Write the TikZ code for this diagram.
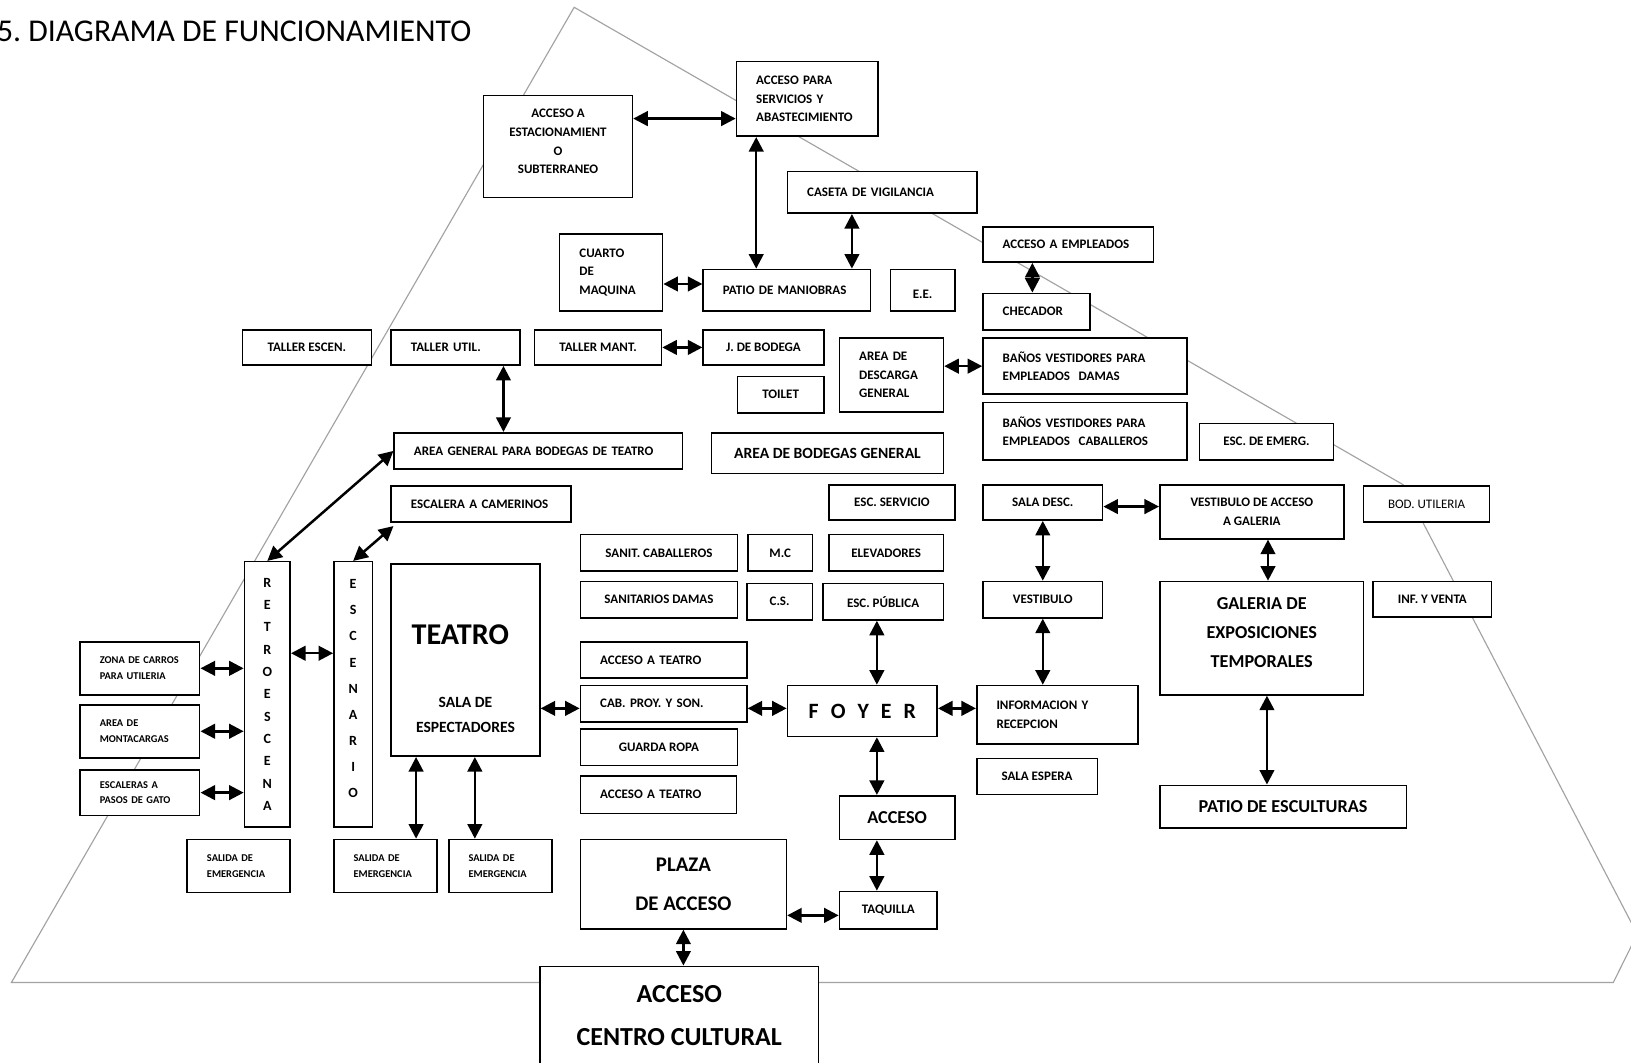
\documentclass[tikz,border=0pt]{standalone}
\usepackage{fontspec}
\setmainfont{Carlito}
\usepackage{xcolor}
\usetikzlibrary{arrows.meta,positioning}
\definecolor{bk50}{HTML}{A2A2A2}
\newcommand{\fnttitle}{\fontsize{30.5}{36}\selectfont}
\newcommand{\fntsmall}{\bfseries\fontsize{12.5}{18}\selectfont}
\newcommand{\fntreg}{\fontsize{12.5}{18}\selectfont}
\newcommand{\fnttiny}{\bfseries\fontsize{10}{15}\selectfont}
\newcommand{\fntmid}{\bfseries\fontsize{15}{24}\selectfont}
\newcommand{\fntbig}{\bfseries\fontsize{17.5}{28}\selectfont}
\newcommand{\fntfoyer}{\bfseries\fontsize{21}{24}\selectfont}
\newcommand{\fntplaza}{\bfseries\fontsize{20}{38}\selectfont}
\newcommand{\fnthuge}{\bfseries\fontsize{25}{41}\selectfont}
\newcommand{\fntteatro}{\bfseries\fontsize{29}{30}\selectfont}
\newcommand{\fntvert}{\bfseries\fontsize{13.5}{21.5}\selectfont}
\newcommand{\fntvertb}{\bfseries\fontsize{13.5}{25.1}\selectfont}
\tikzset{
  roombox/.style={
    rectangle, draw=black, fill=white, line width=1.5pt,
    font=\fntsmall, align=center, inner sep=0pt
  },
  leftbox/.style={
    roombox, align=left, inner xsep=19pt, text width=#1
  },
  boxsize/.style 2 args={minimum width=#1, minimum height=#2},
  dblarrow/.style={
    {Triangle[length=14pt,width=14pt]}-{Triangle[length=14pt,width=14pt]},
    line width=2.4pt
  },
  outline/.style={draw=bk50, line width=1.1pt},
}
\begin{document}
\begin{tikzpicture}[x=1pt, y=-1pt]
  \useasboundingbox (0,0) rectangle (1568,1021);
  % piramide
  \draw[outline] (11,944.5) -- (552,7) -- (1349,466) -- (1574,898) -- (1551,944.5) -- cycle;
  \node[font=\fnttitle, anchor=base west, inner sep=0pt] (titulo) at (-3,40) {5.\ DIAGRAMA DE FUNCIONAMIENTO};

  % Servicios
  \node[roombox, boxsize={143pt}{98pt}] (estacionamiento) at (536.5,141) {ACCESO A\\ESTACIONAMIENT\\O\\SUBTERRANEO\rule[-10pt]{0pt}{10pt}};
  \node[leftbox=98pt, boxsize={136pt}{72pt}] (servicios) at (776,95) {ACCESO PARA\\SERVICIOS Y\\ABASTECIMIENTO};
  \node[leftbox=144pt, boxsize={182pt}{40pt}] (caseta) at (848,185) {CASETA DE VIGILANCIA};
  \node[leftbox=61pt, boxsize={99pt}{74pt}] (cuarto) at (587.5,262) {CUARTO\\DE\\MAQUINA};
  \node[leftbox=123pt, boxsize={161pt}{40pt}] (patio) at (756.5,279) {PATIO DE MANIOBRAS};
  \node[roombox, boxsize={62pt}{40pt}] (ee) at (887,279) {\rule{0pt}{16pt}E.E.};
  \node[leftbox=126pt, boxsize={164pt}{34pt}] (empleados) at (1027,235) {ACCESO A EMPLEADOS};
  \node[leftbox=65pt, boxsize={103pt}{35pt}] (checador) at (996.5,299.5) {CHECADOR};

  % Talleres y bodegas
  \node[roombox, boxsize={124pt}{34pt}] (tescen) at (295,334) {TALLER ESCEN.};
  \node[leftbox=86pt, boxsize={124pt}{34pt}] (tutil) at (438,334) {TALLER UTIL.};
  \node[roombox, boxsize={122pt}{34pt}] (tmant) at (575,334) {TALLER MANT.};
  \node[roombox, boxsize={116pt}{34pt}] (jbodega) at (734,334) {J. DE BODEGA};
  \node[roombox, boxsize={83pt}{35pt}] (toilet) at (750.5,379.5) {TOILET};
  \node[leftbox=62pt, boxsize={100pt}{71pt}] (descarga) at (857,360.5) {AREA DE\\DESCARGA\\GENERAL};
  \node[leftbox=158pt, boxsize={196pt}{54pt}] (bdamas) at (1043,352) {BAÑOS VESTIDORES PARA\\EMPLEADOS\ \ DAMAS};
  \node[leftbox=158pt, boxsize={196pt}{55pt}] (bcaballeros) at (1043,414.5) {BAÑOS VESTIDORES PARA\\EMPLEADOS\ \ CABALLEROS};
  \node[roombox, boxsize={129pt}{35pt}] (escemerg) at (1217.5,424.5) {ESC. DE EMERG.};
  \node[leftbox=239pt, boxsize={277pt}{35pt}] (agbodegas) at (517.5,433.5) {AREA GENERAL PARA BODEGAS DE TEATRO};
  \node[roombox, font=\fntmid, boxsize={223pt}{39pt}] (bodgeneral) at (795.5,435.5) {AREA DE BODEGAS GENERAL};
  \node[leftbox=135pt, boxsize={173pt}{35pt}] (escamerinos) at (462.5,484.5) {ESCALERA A CAMERINOS};
  \node[roombox, boxsize={121pt}{34pt}] (escservicio) at (857.5,483) {ESC. SERVICIO};
  \node[roombox, boxsize={115pt}{34pt}] (saladesc) at (1002.5,483) {SALA DESC.};
  \node[roombox, boxsize={177pt}{52pt}] (vestgaleria) at (1203.5,492) {VESTIBULO DE ACCESO\\A GALERIA};
  \node[roombox, font=\fntreg, boxsize={121pt}{35pt}] (bodutil) at (1371.5,484.5) {BOD. UTILERIA};

  % Vestibulo publico
  \node[roombox, boxsize={151pt}{35pt}] (sanitcab) at (633.5,531.5) {SANIT. CABALLEROS};
  \node[roombox, boxsize={62pt}{35pt}] (mc) at (750,531.5) {M.C};
  \node[roombox, boxsize={110pt}{35pt}] (elevadores) at (852,531.5) {ELEVADORES};
  \node[roombox, boxsize={151pt}{35pt}] (sanitdamas) at (633.5,576.5) {SANITARIOS DAMAS};
  \node[roombox, boxsize={63pt}{35pt}] (cs) at (749.5,578.5) {C.S.};
  \node[roombox, boxsize={116pt}{35pt}] (escpublica) at (849,578.5) {ESC. PÚBLICA};
  \node[roombox, boxsize={115pt}{35pt}] (vestibulo) at (1002.5,576.5) {VESTIBULO};
  \node[roombox, font=\fntbig, boxsize={196pt}{109pt}] (galeria) at (1213,613.5) {GALERIA DE\\EXPOSICIONES\\TEMPORALES\rule[-11pt]{0pt}{11pt}};
  \node[roombox, boxsize={114pt}{34pt}] (infventa) at (1377,576) {INF. Y VENTA};

  % Teatro
  \node[roombox, font=\fntvert, boxsize={44pt}{255pt}] (retro) at (257,667.5) {R\\E\\T\\R\\O\\E\\S\\C\\E\\N\\A};
  \node[roombox, font=\fntvertb, boxsize={37pt}{255pt}] (escenario) at (339.5,667.5) {E\\S\\C\\E\\N\\A\\R\\I\\O\rule[-11pt]{0pt}{11pt}};
  \node[roombox, font=\fntmid, boxsize={143pt}{185pt}] (teatro) at (447.5,634.5) {\rule{0pt}{55pt}{\fntteatro TEATRO}\rule{10pt}{0pt}\\[37pt]SALA DE\\ESPECTADORES};
  \node[leftbox=122pt, boxsize={160pt}{35pt}] (accteatroA) at (638,634.5) {ACCESO A TEATRO};
  \node[leftbox=122pt, boxsize={160pt}{35pt}] (cabproy) at (638,676.5) {CAB. PROY. Y SON.};
  \node[roombox, boxsize={151pt}{35pt}] (guardaropa) at (633.5,718.5) {GUARDA ROPA};
  \node[leftbox=112pt, boxsize={150pt}{36pt}] (accteatroB) at (633,764) {ACCESO A TEATRO};
  \node[leftbox=77pt, font=\fnttiny, boxsize={115pt}{51pt}] (zona) at (134.5,642.5) {ZONA DE CARROS\\PARA UTILERIA};
  \node[leftbox=77pt, font=\fnttiny, boxsize={115pt}{51pt}, below=8pt of zona] (montacargas) {AREA DE\\MONTACARGAS};
  \node[leftbox=77pt, font=\fnttiny, boxsize={115pt}{44pt}, below=10pt of montacargas] (pasosgato) {ESCALERAS A\\PASOS DE GATO};
  \node[leftbox=61pt, font=\fnttiny, boxsize={99pt}{51pt}] (salidaA) at (229.5,832.5) {SALIDA DE\\EMERGENCIA};
  \node[leftbox=61pt, font=\fnttiny, boxsize={99pt}{51pt}] (salidaB) at (370.5,832.5) {SALIDA DE\\EMERGENCIA};
  \node[leftbox=61pt, font=\fnttiny, boxsize={99pt}{51pt}, right=10pt of salidaB] (salidaC) {SALIDA DE\\EMERGENCIA};

  % Foyer y accesos
  \node[roombox, font=\fntfoyer, boxsize={144pt}{49pt}] (foyer) at (829,683.5) {F\hspace{.55em}O\hspace{.55em}Y\hspace{.55em}E\hspace{.55em}R};
  \node[leftbox=117pt, boxsize={155pt}{56pt}] (informacion) at (1016.5,687) {INFORMACION Y\\RECEPCION};
  \node[roombox, boxsize={116pt}{35pt}] (salaespera) at (997,746.5) {SALA ESPERA};
  \node[roombox, font=\fntbig, boxsize={111pt}{42pt}] (acceso) at (862.5,786) {ACCESO};
  \node[roombox, font=\fntbig, boxsize={237pt}{41pt}] (patioesc) at (1233.5,775.5) {PATIO DE ESCULTURAS};
  \node[roombox, font=\fntplaza, boxsize={198pt}{86pt}] (plaza) at (657,850) {PLAZA\\DE ACCESO};
  \node[roombox, boxsize={94pt}{36pt}] (taquilla) at (854,875) {TAQUILLA};
  \node[roombox, font=\fnthuge, boxsize={268pt}{95pt}] (centro) at (653,976.5) {ACCESO\\CENTRO CULTURAL};

  % Conexiones
  \draw[dblarrow] ([yshift=27pt]estacionamiento.east) -- ([yshift=27pt]estacionamiento.east -| servicios.west);
  \draw[dblarrow] ([xshift=-49pt]servicios.south) -- ([xshift=-49pt]servicios.south |- patio.north);
  \draw[dblarrow] ([xshift=-29pt]caseta.south) -- ([xshift=-29pt]caseta.south |- patio.north);
  \draw[dblarrow] ([yshift=-11pt]cuarto.east) -- ([yshift=-11pt]cuarto.east -| patio.west);
  \draw[dblarrow] ([xshift=-4pt]checador.north) -- ([xshift=-4pt]checador.north |- empleados.south);
  \draw[dblarrow] (tmant) -- (jbodega);
  \draw[dblarrow] ([xshift=46pt]tutil.south) -- ([xshift=46pt]tutil.south |- agbodegas.north);
  \draw[dblarrow] (bdamas.west -| descarga.east) -- (bdamas.west);
  \draw[dblarrow] (retro.north) -- (agbodegas.west);
  \draw[dblarrow] (escenario.north) -- ([shift={(3pt,-3pt)}]escamerinos.south west);
  \draw[dblarrow] ([yshift=39.5pt]retro.east) -- ([yshift=39.5pt]retro.east -| escenario.west);
  \foreach \n in {zona, montacargas, pasosgato}
    \draw[dblarrow] (\n.east) -- (\n.east -| retro.west);
  \draw[dblarrow] ([yshift=-4.5pt]cabproy.west) -- ([yshift=-4.5pt]cabproy.west -| teatro.east);
  \draw[dblarrow] ([xshift=29.5pt]salidaB.north) -- ([xshift=29.5pt]salidaB.north |- teatro.south);
  \draw[dblarrow] ([xshift=-24.5pt]salidaC.north) -- ([xshift=-24.5pt]salidaC.north |- teatro.south);
  \draw[dblarrow] ([yshift=-4.5pt]cabproy.east) -- ([yshift=-4.5pt]cabproy.east -| foyer.west);
  \draw[dblarrow] ([xshift=14pt]foyer.north) -- ([xshift=14pt]foyer.north |- escpublica.south);
  \draw[dblarrow] ([yshift=2.5pt]foyer.east) -- ([yshift=2.5pt]foyer.east -| informacion.west);
  \draw[dblarrow] (vestibulo.south) -- (vestibulo.south |- informacion.north);
  \draw[dblarrow] (saladesc) -- (vestibulo);
  \draw[dblarrow] ([yshift=-4pt]saladesc.east) -- ([yshift=-4pt]saladesc.east -| vestgaleria.west);
  \draw[dblarrow] ([xshift=6pt]galeria.north) -- ([xshift=6pt]galeria.north |- vestgaleria.south);
  \draw[dblarrow] ([xshift=5pt]galeria.south) -- ([xshift=5pt]galeria.south |- patioesc.north);
  \draw[dblarrow] ([xshift=14pt]foyer.south) -- ([xshift=14pt]foyer.south |- acceso.north);
  \draw[dblarrow] ([xshift=-19.5pt]acceso.south) -- ([xshift=-19.5pt]acceso.south |- taquilla.north);
  \draw[dblarrow] ([yshift=-5pt]taquilla.west) -- ([yshift=-5pt]taquilla.west -| plaza.east);
  \draw[dblarrow] (plaza.south) -- (plaza.south |- centro.north);
\end{tikzpicture}
\end{document}
